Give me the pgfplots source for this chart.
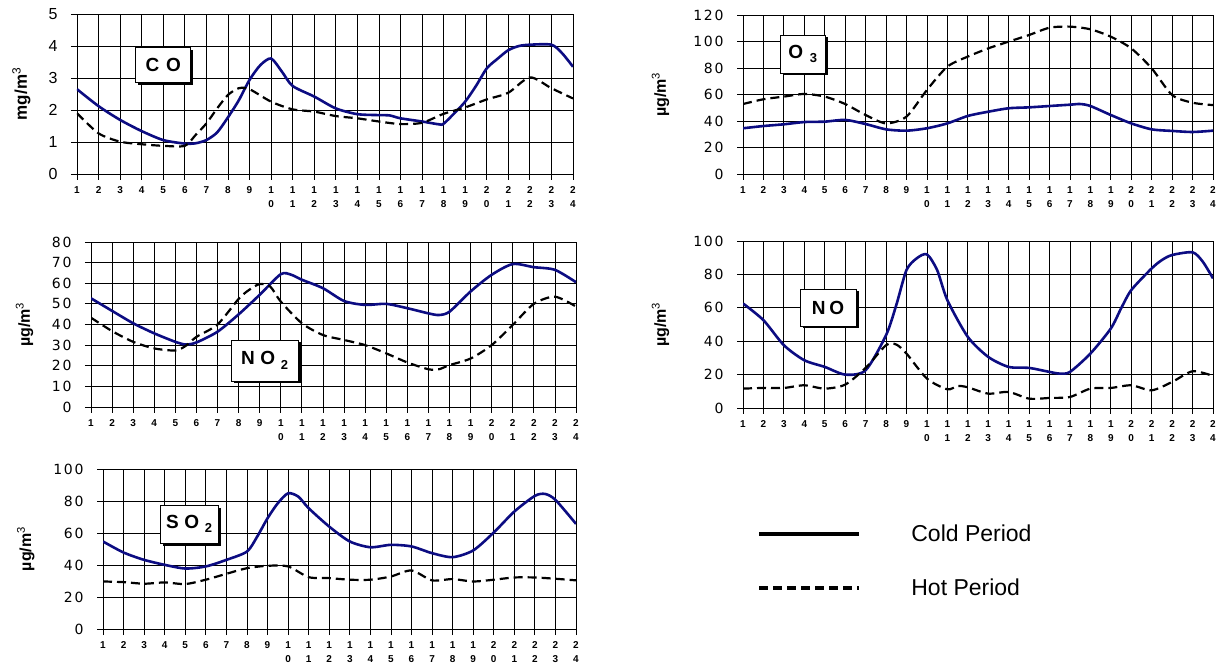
\documentclass[border=0pt]{standalone}
\usepackage{fontspec}
\setmainfont{Liberation Sans}
\newfontfamily\dejavu[LetterSpace=12]{DejaVu Sans}
\usepackage{pgfplots}
\pgfplotsset{compat=1.18}
\usetikzlibrary{shadows}
\definecolor{cold}{RGB}{12,12,130}

\pgfplotsset{
  panel/.style={
    scale only axis, anchor=south west,
    xmin=1, xmax=24, ymin=0,
    axis lines*=left,
    xtick={1,...,24},
    xticklabels={1,2,3,4,5,6,7,8,9,{1\\0},{1\\1},{1\\2},{1\\3},{1\\4},{1\\5},{1\\6},{1\\7},{1\\8},{1\\9},{2\\0},{2\\1},{2\\2},{2\\3},{2\\4}},
    xticklabel style={font=\fontsize{10}{14}\selectfont\bfseries, align=center, anchor=north, yshift=-3pt},
    grid=major, major grid style={black, line width=0.8pt},
    axis line style={black, line width=0.8pt},
    every tick/.style={black, line width=0.8pt},
    tick align=outside, major tick length=6pt,
    /pgf/number format/assume math mode=true,
    yticklabel style={font=\dejavu\fontsize{14}{14}\selectfont, anchor=east, xshift=-10pt},
    ylabel style={font=\bfseries\fontsize{16}{16}\selectfont, anchor=base},
  },
  cold/.style={color=cold, line width=2.6pt, smooth, tension=0.45, no marks, forget plot},
  hot/.style={black, line width=2.2pt, dash pattern=on 9pt off 5pt, smooth, tension=0.45, no marks, forget plot},
}
\tikzset{
  lab/.style={draw=black, line width=0.7pt, fill=white,
    drop shadow={shadow xshift=2.5pt, shadow yshift=-2.5pt, opacity=1, fill=black},
    font=\fontsize{19}{19}\selectfont\bfseries, inner sep=0pt, anchor=center},
}

\begin{document}
\begin{tikzpicture}
\path[use as bounding box] (0pt,0pt) rectangle (1217pt,666pt);

% ---------------- CO ----------------
\begin{axis}[panel, at={(77pt,492pt)}, width=496pt, height=160pt,
  ymax=5, ytick={0,1,2,3,4,5},
  yticklabel style={font=\fontsize{16}{16}\selectfont},
  ylabel={mg/m\textsuperscript{\mdseries 3}},
  ylabel style={at={(axis description cs:-0.101,0.5)}, font=\bfseries\fontsize{17}{17}\selectfont}]
\addplot[cold] coordinates {(1,2.65)(2,2.12)(3,1.69)(4,1.34)(5,1.06)(6,0.95)(6.5,0.96)(7,1.06)(7.5,1.3)(8,1.77)(8.5,2.3)(9,2.94)(9.5,3.4)(10,3.61)(10.5,3.2)(11,2.75)(12,2.42)(13,2.05)(14,1.87)(15,1.84)(15.5,1.83)(16,1.74)(17,1.64)(17.8,1.55)(18,1.57)(18.5,1.9)(19,2.26)(19.5,2.75)(20,3.3)(20.5,3.6)(21,3.87)(21.5,4.0)(22,4.04)(23,4.04)(23.5,3.77)(24,3.35)};
\addplot[hot] coordinates {(1,1.9)(2,1.27)(3,1.01)(4,0.93)(5,0.88)(6,0.88)(6.5,1.22)(7,1.58)(7.5,2.05)(8,2.47)(8.5,2.68)(9,2.65)(10,2.26)(11,2.02)(12,1.95)(13,1.81)(14,1.74)(15,1.64)(16,1.56)(17,1.6)(18,1.88)(19,2.08)(20,2.33)(21,2.54)(22,3.02)(23,2.68)(24,2.36)};
\node[lab, minimum width=55pt, minimum height=35pt] at (rel axis cs:0.174,0.684) {C\hspace{0.35em}O};
\end{axis}

% ---------------- O3 ----------------
\begin{axis}[panel, at={(743pt,492pt)}, width=470pt, height=159pt,
  ymax=120, ytick={0,20,...,120},
  ylabel={µg/m\textsuperscript{\mdseries 3}},
  ylabel style={at={(axis description cs:-0.164,0.5)}}]
\addplot[cold] coordinates {(1,34.5)(2,36.2)(3,37.5)(4,39.2)(5,39.5)(6,40.8)(7,37.7)(8,33.7)(9,32.7)(10,34.5)(11,38.2)(12,43.8)(13,47)(14,49.6)(15,50.3)(16,51.3)(17,52.3)(17.5,52.8)(18,51.3)(19,44.5)(20,38.2)(21,33.7)(22,32.5)(23,31.7)(24,32.7)};
\addplot[hot] coordinates {(1,52.8)(2,56.4)(3,58.4)(4,60.4)(5,58.4)(6,52.8)(7,44.5)(8,38.2)(9,43.3)(10,63.4)(11,81)(12,88.6)(13,94.8)(14,99.9)(15,104.9)(16,110.4)(17,111.2)(18,109.2)(19,103.6)(20,94.8)(21,79.7)(22,59.6)(23,53.8)(24,52)};
\node[lab, minimum width=45pt, minimum height=38pt] at (rel axis cs:0.127,0.755) {O\hspace{0.35em}\raisebox{-0.45ex}{\fontsize{13}{13}\selectfont 3}};
\end{axis}

% ---------------- NO2 ----------------
\begin{axis}[panel, at={(91pt,259pt)}, width=485pt, height=165pt,
  ymax=80, ytick={0,10,...,80},
  ylabel={µg/m\textsuperscript{\mdseries 3}},
  ylabel style={at={(axis description cs:-0.126,0.5)}}]
\addplot[cold] coordinates {(1,52.7)(2,46.6)(3,40.6)(4,35.7)(5,31.6)(5.5,30.3)(6,31.3)(7,36.5)(8,44.9)(9,54.4)(10,64.4)(10.5,64.1)(11,61.7)(12,57.6)(13,51.4)(14,49.5)(15,50)(16,47.9)(17,45.4)(17.5,44.6)(18,46.2)(19,56)(20,64.1)(21,69.3)(22,67.8)(23,66.5)(24,60.5)};
\addplot[hot] coordinates {(1,43.3)(2,36.8)(3,31.6)(4,28.4)(5,27.4)(5.5,29.7)(6,34)(7,40)(8,52.4)(8.5,56.8)(9,59.6)(9.5,58.4)(10,51.1)(11,40.6)(12,34.9)(13,32.5)(14,30)(15,26)(16,21.6)(17,18.3)(17.5,18.3)(18,20.3)(19,23.5)(20,30)(21,39.8)(22,50)(23,53.5)(24,48.7)};
\node[lab, minimum width=67pt, minimum height=41pt] at (rel axis cs:0.358,0.282) {N\hspace{0.3em}O\hspace{0.3em}\raisebox{-0.45ex}{\fontsize{13}{13}\selectfont 2}};
\end{axis}

% ---------------- NO ----------------
\begin{axis}[panel, at={(743pt,258pt)}, width=470pt, height=167pt,
  ymax=100, ytick={0,20,...,100},
  ylabel={µg/m\textsuperscript{\mdseries 3}},
  ylabel style={at={(axis description cs:-0.164,0.5)}}]
\addplot[cold] coordinates {(1,62.6)(2,52.6)(3,37.6)(4,28.6)(5,24.6)(6,20)(7,22.6)(8,43.6)(8.5,61.6)(9,82.6)(9.5,89.6)(10,92)(10.5,82.6)(11,64.6)(12,42.6)(13,30.6)(14,24.6)(15,24)(16,21.6)(16.5,20.6)(17,21.6)(18,32.6)(19,47.6)(19.5,59.6)(20,70.6)(21,83.6)(21.5,88.6)(22,91.6)(23,93.2)(23.5,87.6)(24,77.6)};
\addplot[hot] coordinates {(1,11.6)(2,12)(3,12)(4,13.6)(5,11.6)(6,14)(7,24)(8,37.6)(8.5,38)(9,32.6)(10,17.6)(11,11.2)(11.5,13.2)(12,12.4)(13,8.6)(14,9.6)(15,5.6)(16,6)(17,6.6)(18,11.6)(19,12)(20,13.6)(21,10.6)(22,15.6)(23,22)(24,19.2)};
\node[lab, minimum width=56pt, minimum height=37pt] at (rel axis cs:0.181,0.602) {N\hspace{0.2em}O};
\end{axis}

% ---------------- SO2 ----------------
\begin{axis}[panel, at={(103pt,37pt)}, width=473pt, height=160pt,
  ymax=100, ytick={0,20,...,100},
  ylabel={µg/m\textsuperscript{\mdseries 3}},
  ylabel style={at={(axis description cs:-0.152,0.5)}},
  legend style={draw=none, fill=none, at={(axis description cs:1.383,0.425)}, anchor=west,
    inner sep=0pt, row sep=36pt, column sep=50pt, font=\fontsize{23}{23}\selectfont,
    nodes={inner sep=0pt}},
  legend cell align=left,
  legend image code/.code={\draw[#1] (0pt,0pt) -- (100pt,0pt);}]
\addplot[cold] coordinates {(1,54.7)(2,47.8)(3,43.2)(4,40.1)(5,37.8)(6,39.1)(7,43.2)(8,48.4)(8.5,57.8)(9,69.2)(9.5,78.6)(10,84.8)(10.5,82.7)(11,75.5)(12,64)(13,54.7)(14,51.1)(15,52.6)(16,51.6)(17,47.4)(18,44.9)(19,49.1)(20,60.3)(21,73.4)(22,83.2)(22.5,84.4)(23,80.7)(24,65.7)};
\addplot[hot] coordinates {(1,29.7)(2,29.3)(3,28.3)(4,29.1)(5,28.1)(6,30.8)(7,34.5)(8,38)(9,39.5)(10,39.1)(11,32.4)(12,31.8)(13,30.8)(14,30.8)(15,32.8)(16,36.6)(17,30.4)(18,31.2)(19,29.7)(20,30.8)(21,32.2)(22,32.2)(23,31.4)(24,30.4)};
\node[lab, minimum width=58pt, minimum height=38pt] at (rel axis cs:0.182,0.656) {S\hspace{0.3em}O\hspace{0.3em}\raisebox{-0.45ex}{\fontsize{13}{13}\selectfont 2}};
\addlegendimage{black, line width=4pt}
\addlegendentry{Cold Period}
\addlegendimage{black, line width=4pt, dash pattern=on 9pt off 5pt}
\addlegendentry{Hot Period}
\end{axis}
\end{tikzpicture}
\end{document}
